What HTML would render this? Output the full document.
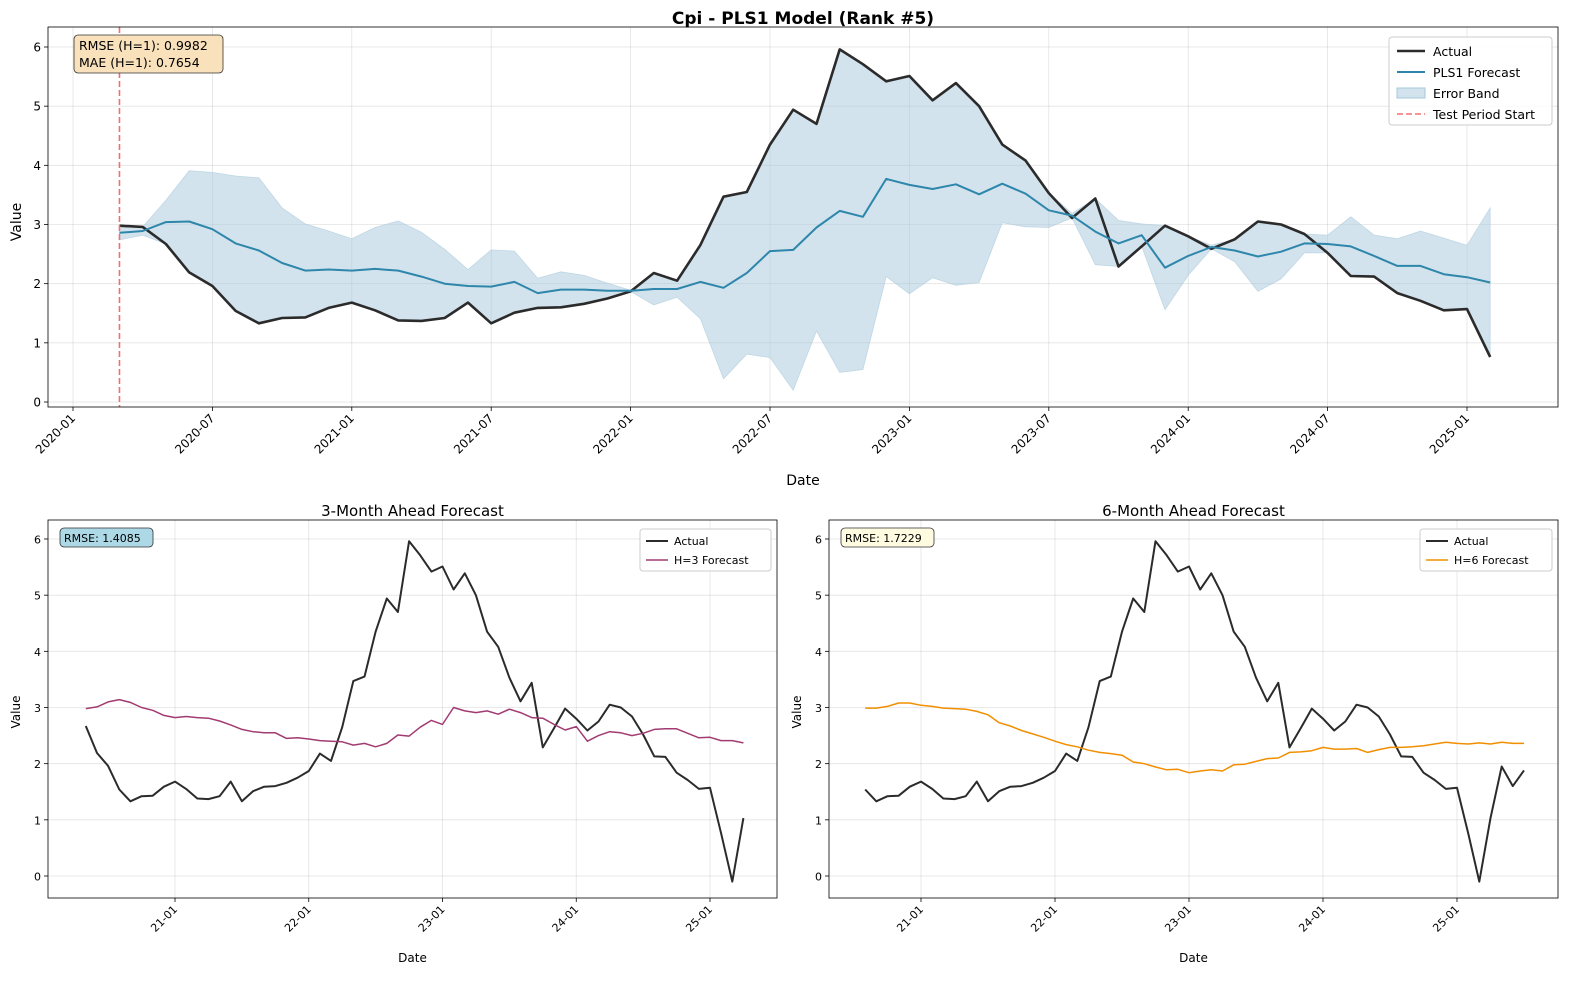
<!DOCTYPE html>
<html><head><meta charset="utf-8"><style>
body{margin:0;background:#fff;font-family:"Liberation Sans","DejaVu Sans",sans-serif}
svg text{font-family:"DejaVu Sans","Liberation Sans",sans-serif}
</style></head><body>
<svg id="fig" width="1590" height="989" viewBox="0 0 1590 989" xmlns="http://www.w3.org/2000/svg"></svg>
<script>
// Actual values, monthly from 2020-03 to 2025-07
const actual = [2.98,2.96,2.67,2.19,1.96,1.54,1.33,1.42,1.43,1.59,
1.68,1.55,1.38,1.37,1.42,1.68,1.33,1.51,1.59,1.60,1.66,1.75,
1.87,2.18,2.05,2.65,3.47,3.55,4.35,4.94,4.70,5.96,5.71,5.42,
5.51,5.10,5.39,5.00,4.35,4.08,3.53,3.11,3.44,2.29,2.63,2.98,
2.80,2.59,2.75,3.05,3.00,2.84,2.52,2.13,2.12,1.84,1.71,1.55,
1.57,0.76,-0.10,1.03,1.95,1.60,1.88];
// PLS1 H=1 forecast, monthly from 2020-03 to 2025-02
const forecastH1 = [2.86,2.89,3.04,3.05,2.92,2.68,2.56,2.35,2.22,2.24,
2.22,2.25,2.22,2.12,2.00,1.96,1.95,2.03,1.84,1.90,
1.90,1.88,1.88,1.91,1.91,2.03,1.93,2.18,2.55,2.57,
2.95,3.23,3.13,3.77,3.67,3.60,3.68,3.51,3.69,3.52,
3.24,3.15,2.88,2.68,2.82,2.27,2.47,2.62,2.56,2.46,
2.54,2.68,2.67,2.63,2.47,2.30,2.30,2.16,2.11,2.02];
// H=3 forecast, monthly from 2020-05 to 2025-04
const forecastH3 = [2.98,3.01,3.10,3.14,3.09,3.00,2.95,2.86,2.82,2.84,
2.82,2.81,2.76,2.69,2.61,2.57,2.55,2.55,2.45,2.46,
2.44,2.41,2.40,2.39,2.33,2.36,2.30,2.36,2.51,2.49,
2.65,2.77,2.70,3.00,2.94,2.91,2.94,2.88,2.97,2.91,
2.82,2.81,2.70,2.60,2.66,2.40,2.50,2.57,2.55,2.50,
2.54,2.61,2.62,2.62,2.54,2.46,2.47,2.41,2.41,2.37];
// H=6 forecast, monthly from 2020-08 to 2025-07
const forecastH6 = [2.99,2.99,3.02,3.08,3.08,3.04,3.02,2.99,2.98,2.97,
2.93,2.87,2.73,2.67,2.59,2.53,2.47,2.40,2.34,2.30,
2.24,2.20,2.18,2.15,2.03,2.00,1.94,1.89,1.90,1.84,
1.87,1.89,1.87,1.98,1.99,2.04,2.09,2.10,2.20,2.21,
2.23,2.29,2.26,2.26,2.27,2.20,2.25,2.29,2.29,2.30,
2.32,2.35,2.38,2.36,2.35,2.37,2.35,2.38,2.36,2.36];
const yTicks = [0,1,2,3,4,5,6];
const topXTicks = ["2020-01","2020-07","2021-01","2021-07","2022-01","2022-07","2023-01","2023-07","2024-01","2024-07","2025-01"];
const botXTicks = ["21-01","22-01","23-01","24-01","25-01"];

const NS="http://www.w3.org/2000/svg";
const fig=document.getElementById('fig');
function el(tag,attrs,parent,text){const e=document.createElementNS(NS,tag);for(const k in attrs)e.setAttribute(k,attrs[k]);if(text!==undefined)e.textContent=text;(parent||fig).appendChild(e);return e;}
function monthIdx(s){const p=s.split('-');let y=+p[0];if(y<100)y+=2000;return (y-2020)*12+(+p[1]-1);}
// actual starts at month index 2 (2020-03)
const A0=2;

function panel(name,box,xm,ym,xTicks,xFont){
  const g=el('g',{},fig);
  const gg=el('g',{},g);
  yTicks.forEach(v=>{const y=ym(v);
    el('line',{x1:box.x0,x2:box.x1,y1:y,y2:y,stroke:'#b0b0b0','stroke-opacity':0.35,'stroke-width':0.8},gg);
    el('line',{x1:box.x0-4,x2:box.x0,y1:y,y2:y,stroke:'#000','stroke-width':0.8},g);
    const t=el('text',{x:box.x0-7,y:y+4.5,'text-anchor':'end','font-size':xFont},g,String(v));
    });
  xTicks.forEach(s=>{const x=xm(monthIdx(s));
    el('line',{x1:x,x2:x,y1:box.y0,y2:box.y1,stroke:'#b0b0b0','stroke-opacity':0.35,'stroke-width':0.8},gg);
    el('line',{x1:x,x2:x,y1:box.y1,y2:box.y1+4,stroke:'#000','stroke-width':0.8},g);
    const t=el('text',{x:x+3,y:box.y1+12,'text-anchor':'end','font-size':xFont,transform:`rotate(-45 ${x+3} ${box.y1+12})`},g,s);
    });
  return g;
}
function pathOf(vals,start,xm,ym){return vals.map((v,i)=>(i?'L':'M')+xm(start+i).toFixed(1)+' '+ym(v).toFixed(1)).join(' ');}
function frame(g,box){const r=el('rect',{x:box.x0,y:box.y0,width:box.x1-box.x0,height:box.y1-box.y0,fill:'none',stroke:'#000','stroke-width':0.8},g);}

// ---------- top panel ----------
const tb={x0:48,x1:1558,y0:27,y1:407};
const txm=m=>73+m*(1467-73)/60;
const tym=v=>402-v*(402-47)/6;
const tg=panel('main-forecast-chart',tb,txm,tym,topXTicks,12);
// error band
const up=forecastH1.map((f,i)=>f+Math.abs(actual[i]-f));
const lo=forecastH1.map((f,i)=>f-Math.abs(actual[i]-f));
let bd=pathOf(up,A0,txm,tym)+' '+lo.map((v,i)=>i).reverse().map(i=>'L'+txm(A0+i).toFixed(1)+' '+tym(lo[i]).toFixed(1)).join(' ')+' Z';
let e=el('path',{d:bd,fill:'#a6c8db','fill-opacity':0.5,stroke:'#a6c8db','stroke-opacity':0.6,'stroke-width':0.8},tg);

e=el('path',{d:pathOf(actual.slice(0,60),A0,txm,tym),fill:'none',stroke:'#2b2b2b','stroke-width':2.6,'stroke-linejoin':'round'},tg);

e=el('path',{d:pathOf(forecastH1,A0,txm,tym),fill:'none',stroke:'#2e86ab','stroke-width':2,'stroke-linejoin':'round'},tg);

e=el('line',{x1:txm(A0),x2:txm(A0),y1:tb.y0,y2:tb.y1,stroke:'#f07070','stroke-width':1.6,'stroke-dasharray':'6 3'},tg);

frame(tg,tb);
e=el('text',{x:803,y:24,'text-anchor':'middle','font-size':17,'font-weight':'bold'},fig,'Cpi - PLS1 Model (Rank #5)');

e=el('text',{x:803,y:485,'text-anchor':'middle','font-size':14},fig,'Date');

e=el('text',{x:21,y:222,'text-anchor':'middle','font-size':14,transform:'rotate(-90 21 222)'},fig,'Value');

// metrics box
let mb=el('g',{},fig);
el('rect',{x:74,y:35,width:149,height:38,rx:4,fill:'#f8e1bb',stroke:'#333','stroke-width':0.8},mb);
el('text',{x:79,y:50,'font-size':12.5},mb,'RMSE (H=1): 0.9982');
el('text',{x:79,y:67,'font-size':12.5},mb,'MAE (H=1): 0.7654');
// legend
let lg=el('g',{},fig);
el('rect',{x:1389,y:37,width:163,height:88,rx:3,fill:'#fff','fill-opacity':0.85,stroke:'#ccc'},lg);
const li=[['Actual','line','#2b2b2b',2.6],['PLS1 Forecast','line','#2e86ab',2],['Error Band','rect','#a6c8db'],['Test Period Start','dash','#f07070']];
li.forEach((it,i)=>{const y=51+i*21;const gi=el('g',{},lg);
  if(it[1]==='rect')el('rect',{x:1397,y:y-5,width:28,height:10,fill:it[2],'fill-opacity':0.5,stroke:it[2]},gi);
  else el('line',{x1:1397,x2:1425,y1:y,y2:y,stroke:it[2],'stroke-width':it[3]||1.6,'stroke-dasharray':it[1]==='dash'?'6 3':'none'},gi);
  el('text',{x:1433,y:y+5,'font-size':12.5},gi,it[0]);});

// ---------- bottom panels ----------
function bottom(name,box,xm,title,fc,fcStart,fcColor,fcLabel,rmse,rmseFill,legX){
  const ym=v=>876-v*(876-539)/6;
  const g=panel(name,box,xm,ym,botXTicks,11);
  const n=fc.length;
  const acts=actual.slice(fcStart-A0,fcStart-A0+n);
  let p=el('path',{d:pathOf(acts,fcStart,xm,ym),fill:'none',stroke:'#2b2b2b','stroke-width':2,'stroke-linejoin':'round'},g);
  
  p=el('path',{d:pathOf(fc,fcStart,xm,ym),fill:'none',stroke:fcColor,'stroke-width':1.5,'stroke-linejoin':'round'},g);
  
  frame(g,box);
  const cx=(box.x0+box.x1)/2;
  p=el('text',{x:cx,y:516,'text-anchor':'middle','font-size':15},g,title);
  p=el('text',{x:cx,y:962,'text-anchor':'middle','font-size':12},g,'Date');
  p=el('text',{x:box.x0-28,y:712,'text-anchor':'middle','font-size':12,transform:`rotate(-90 ${box.x0-28} 712)`},g,'Value');
  const rb=el('g',{},g);
  el('rect',{x:box.x0+12,y:528,width:93,height:19,rx:4,fill:rmseFill,stroke:'#333','stroke-width':0.8},rb);
  el('text',{x:box.x0+16,y:542,'font-size':11},rb,'RMSE: '+rmse);
  const l=el('g',{},g);
  el('rect',{x:legX,y:529,width:box.x1-6-legX,height:42,rx:3,fill:'#fff',stroke:'#ccc'},l);
  [['Actual','#2b2b2b',2],[fcLabel,fcColor,1.5]].forEach((it,i)=>{const y=541+i*19;const gi=el('g',{},l);
    el('line',{x1:legX+6,x2:legX+28,y1:y,y2:y,stroke:it[1],'stroke-width':it[2]},gi);
    el('text',{x:legX+34,y:y+4,'font-size':11},gi,it[0]);});
}
bottom('h3-forecast-chart',{x0:48,x1:777,y0:520,y1:898},m=>175+(m-12)*(710-175)/48,'3-Month Ahead Forecast',forecastH3,4,'#a23b72','H=3 Forecast','1.4085','#add8e6',640);
bottom('h6-forecast-chart',{x0:829,x1:1558,y0:520,y1:898},m=>921+(m-12)*(1457-921)/48,'6-Month Ahead Forecast',forecastH6,7,'#f18f01','H=6 Forecast','1.7229','#fffbe0',1420);
</script>
</body></html>
